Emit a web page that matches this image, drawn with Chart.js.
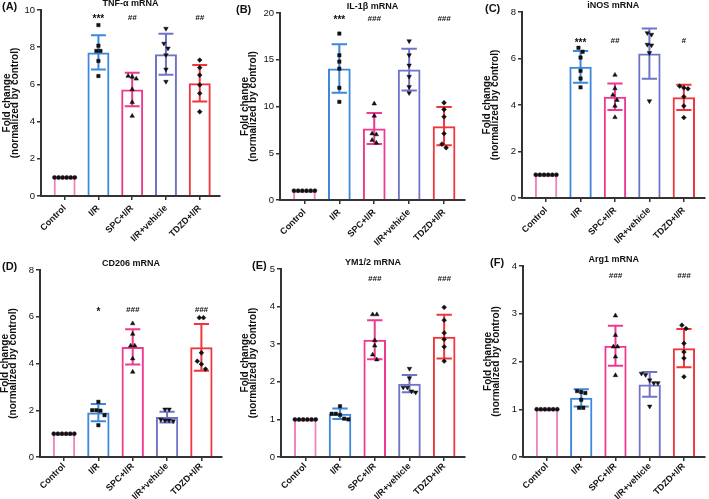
<!DOCTYPE html>
<html><head><meta charset="utf-8">
<script src="https://cdn.jsdelivr.net/npm/chart.js@4/dist/chart.umd.min.js"></script>
<style>
html,body{margin:0;padding:0;background:#fff;width:709px;height:499px;overflow:hidden;position:relative;}
canvas{position:absolute;}
</style></head><body>
<canvas id="cA" width="236" height="250" style="left:0;top:0"></canvas>
<canvas id="cB" width="236" height="250" style="left:236px;top:0"></canvas>
<canvas id="cC" width="237" height="250" style="left:472px;top:0"></canvas>
<canvas id="cD" width="236" height="249" style="left:0;top:250px"></canvas>
<canvas id="cE" width="236" height="249" style="left:236px;top:250px"></canvas>
<canvas id="cF" width="237" height="249" style="left:472px;top:250px"></canvas>
<script>
// ---------- DATA ----------
const categories = ['Control', 'I/R', 'SPC+I/R', 'I/R+vehicle', 'TDZD+I/R'];

const tnfTitle = 'TNF-α mRNA';
const tnfTicks = [0, 2, 4, 6, 8, 10];
const tnfMeans = [1, 7.72, 5.73, 7.62, 6.06];
const tnfSD = [0, 0.92, 0.90, 1.10, 0.98];
const tnfPoints = [
  [1, 1, 1, 1, 1, 1],
  [9.19, 8.08, 7.8, 7.8, 7.26, 6.45],
  [6.45, 6.4, 6.3, 5.73, 5.04, 4.30],
  [9.0, 8.2, 7.94, 7.58, 6.81, 6.15],
  [7.31, 6.9, 6.5, 5.97, 5.52, 4.53]
];
const tnfSig = ['', '***', '##', '', '##'];
const tnfSigLevel = 9.6;

const il1Title = 'IL-1β mRNA';
const il1Ticks = [0, 5, 10, 15, 20];
const il1Means = [1, 14.06, 7.65, 13.95, 7.9];
const il1SD = [0, 2.6, 1.65, 2.23, 2.05];
const il1Points = [
  [1, 1, 1, 1, 1, 1],
  [17.8, 15.48, 14.8, 14.05, 12.0, 10.5],
  [10.3, 9.0, 7.1, 7.0, 6.4, 6.1],
  [17.0, 15.5, 14.4, 13.2, 12.1, 11.45],
  [10.4, 9.68, 8.9, 7.1, 5.98, 5.59]
];
const il1Sig = ['', '***', '###', '', '###'];
const il1SigLevel = 19.4;

const inosTitle = 'iNOS mRNA';
const inosTicks = [0, 2, 4, 6, 8];
const inosMeans = [1, 5.64, 4.36, 6.21, 4.33];
const inosSD = [0, 0.68, 0.57, 1.08, 0.54];
const inosPoints = [
  [1, 1, 1, 1, 1, 1],
  [6.46, 6.29, 6.04, 5.47, 5.14, 4.76],
  [5.29, 4.71, 4.43, 4.21, 3.96, 3.47],
  [7.1, 7.03, 6.6, 6.57, 6.24, 4.17],
  [4.81, 4.74, 4.7, 4.36, 3.96, 3.46]
];
const inosSig = ['', '***', '##', '', '#'];
const inosSigLevel = 6.76;

const cd206Title = 'CD206 mRNA';
const cd206Ticks = [0, 2, 4, 6, 8];
const cd206Means = [1, 1.9, 4.71, 1.71, 4.69];
const cd206SD = [0, 0.37, 0.75, 0.23, 1.0];
const cd206Points = [
  [1, 1, 1, 1, 1, 1],
  [2.36, 2.0, 2.0, 1.98, 1.79, 1.36],
  [5.71, 5.26, 4.76, 4.76, 4.21, 3.64],
  [2.04, 2.04, 1.6, 1.57, 1.54, 1.57],
  [5.96, 5.96, 4.46, 4.1, 3.97, 3.76]
];
const cd206Sig = ['', '*', '###', '', '###'];
const cd206SigLevel = 6.29;

const ymTitle = 'YM1/2 mRNA';
const ymTicks = [0, 1, 2, 3, 4, 5];
const ymMeans = [1, 1.15, 3.12, 1.95, 3.2];
const ymSD = [0, 0.14, 0.52, 0.23, 0.58];
const ymPoints = [
  [1, 1, 1, 1, 1, 1],
  [1.35, 1.15, 1.15, 1.12, 1.02, 1.0],
  [3.79, 3.79, 3.1, 2.96, 2.72, 2.59],
  [2.35, 2.1, 1.85, 1.85, 1.75, 1.72],
  [3.98, 3.64, 3.3, 3.13, 2.93, 2.55]
];
const ymSig = ['', '', '###', '', '###'];
const ymSigLevel = 4.75;

const argTitle = 'Arg1 mRNA';
const argTicks = [0, 1, 2, 3, 4];
const argMeans = [1, 1.24, 2.33, 1.52, 2.28];
const argSD = [0, 0.18, 0.42, 0.26, 0.40];
const argPoints = [
  [1, 1, 1, 1, 1, 1],
  [1.38, 1.36, 1.34, 1.2, 1.03, 1.03],
  [2.96, 2.55, 2.31, 2.31, 2.1, 1.71],
  [1.75, 1.72, 1.61, 1.55, 1.55, 1.06],
  [2.76, 2.69, 2.38, 2.2, 2.07, 1.68]
];
const argSig = ['', '', '###', '', '###'];
const argSigLevel = 3.79;

// ---------- STYLE ----------
const FONT = "'Liberation Sans', Arial, Helvetica, sans-serif";
const barColors = ['#f084c2', '#3d88dc', '#ee3a8e', '#6f74c8', '#f0353c'];
const markerStyles = ['circle', 'rect', 'triangle', 'triangle', 'rectRot'];
const markerRot = [0, 0, 0, 180, 0];
const markerRadius = [2, 2.4, 2.6, 2.6, 2.4];

Chart.defaults.font.family = FONT;
Chart.defaults.color = '#111';

const panels = [
  {id: 'cA', tag: '(A)', title: tnfTitle, ticks: tnfTicks, means: tnfMeans, sd: tnfSD, points: tnfPoints, sig: tnfSig, sigLevel: tnfSigLevel,
   lay: {axisW: 41, padTop: 10, padRight: 16, xAxisH: 54, titlePad: 2.5, tagX: 2, xPad: 3}},
  {id: 'cB', tag: '(B)', title: il1Title, ticks: il1Ticks, means: il1Means, sd: il1SD, points: il1Points, sig: il1Sig, sigLevel: il1SigLevel,
   lay: {axisW: 44, padTop: 13, padRight: 7, xAxisH: 50, titlePad: 4.5, tagX: 0, xPad: 3}},
  {id: 'cC', tag: '(C)', title: inosTitle, ticks: inosTicks, means: inosMeans, sd: inosSD, points: inosPoints, sig: inosSig, sigLevel: inosSigLevel,
   lay: {axisW: 50, padTop: 12, padRight: 2, xAxisH: 52, titlePad: 10.5, tagX: 13, xPad: 3}},
  {id: 'cD', tag: '(D)', title: cd206Title, ticks: cd206Ticks, means: cd206Means, sd: cd206SD, points: cd206Points, sig: cd206Sig, sigLevel: cd206SigLevel,
   lay: {axisW: 40, padTop: 20, padRight: 14, xAxisH: 42, titlePad: 0.5, tagX: 2, xPad: 0}},
  {id: 'cE', tag: '(E)', title: ymTitle, ticks: ymTicks, means: ymMeans, sd: ymSD, points: ymPoints, sig: ymSig, sigLevel: ymSigLevel,
   lay: {axisW: 45, padTop: 19, padRight: 7, xAxisH: 42, titlePad: 4.5, tagX: 16, xPad: 0}},
  {id: 'cF', tag: '(F)', title: argTitle, ticks: argTicks, means: argMeans, sd: argSD, points: argPoints, sig: argSig, sigLevel: argSigLevel,
   lay: {axisW: 51, padTop: 16, padRight: 4, xAxisH: 42, titlePad: 11.5, tagX: 18, xPad: 0}}
];

// spread points with (nearly) equal values side by side
function jitter(vals, yMax) {
  const idx = vals.map((v, i) => i).sort((a, b) => vals[b] - vals[a]);
  const offs = new Array(vals.length).fill(0);
  const thr = 0.028 * yMax, step = 0.12;
  let cluster = [];
  const flush = () => {
    cluster.forEach((k, j) => { offs[k] = (j - (cluster.length - 1) / 2) * step; });
    cluster = [];
  };
  idx.forEach(k => {
    if (cluster.length && Math.abs(vals[cluster[cluster.length - 1]] - vals[k]) >= thr) flush();
    cluster.push(k);
  });
  flush();
  return offs;
}

function makeChart(p) {
  const yMax = p.ticks[p.ticks.length - 1];
  const datasets = [{
    type: 'bar',
    data: p.means.map((m, i) => ({x: i, y: m})),
    backgroundColor: 'rgba(255,255,255,0)',
    borderColor: barColors,
    borderWidth: 2,
    barPercentage: 0.65,
    categoryPercentage: 1,
    order: 2
  }];
  p.points.forEach((vals, g) => {
    const offs = jitter(vals, yMax);
    datasets.push({
      type: 'scatter',
      data: vals.map((v, k) => ({x: g + offs[k], y: v})),
      pointStyle: markerStyles[g],
      rotation: markerRot[g],
      pointRadius: markerRadius[g],
      backgroundColor: '#111',
      borderColor: '#111',
      borderWidth: 0.5,
      order: 1
    });
  });

  const errPlugin = {
    id: 'err',
    afterDatasetDraw(chart, args) {
      if (args.index !== 0) return;
      const ctx = chart.ctx, ys = chart.scales.y;
      ctx.save();
      args.meta.data.forEach((bar, i) => {
        const sd = p.sd[i];
        if (!sd) return;
        const x = bar.x, hw = bar.width * 0.34;
        const yT = ys.getPixelForValue(p.means[i] + sd);
        const yB = ys.getPixelForValue(p.means[i] - sd);
        ctx.strokeStyle = barColors[i];
        ctx.lineWidth = 2;
        ctx.beginPath();
        ctx.moveTo(x, yT); ctx.lineTo(x, yB);
        ctx.moveTo(x - hw, yT); ctx.lineTo(x + hw, yT);
        ctx.moveTo(x - hw, yB); ctx.lineTo(x + hw, yB);
        ctx.stroke();
      });
      ctx.restore();
    }
  };

  const textPlugin = {
    id: 'texts',
    afterDraw(chart) {
      const ctx = chart.ctx, ca = chart.chartArea, xs = chart.scales.x, ys = chart.scales.y;
      ctx.save();
      ctx.fillStyle = '#111';
      ctx.textBaseline = 'middle';
      ctx.textAlign = 'center';
      ctx.font = 'bold 9px ' + FONT;
      ctx.fillText(p.title, (ca.left + ca.right) / 2, ca.top - 6);
      ctx.textAlign = 'left';
      ctx.font = 'bold 11px ' + FONT;
      ctx.fillText(p.tag, p.lay.tagX, ca.top - 3);
      ctx.textAlign = 'center';
      p.sig.forEach((s, i) => {
        if (!s) return;
        const x = xs.getPixelForValue(i), y = ys.getPixelForValue(p.sigLevel);
        if (s[0] === '*') {
          ctx.font = 'bold 10px ' + FONT;
          ctx.fillText(s, x, y + 2);
        } else {
          ctx.font = 'italic bold 8px ' + FONT;
          ctx.fillText(s, x, y);
        }
      });
      ctx.restore();
    }
  };

  return new Chart(document.getElementById(p.id), {
    type: 'bar',
    data: {datasets},
    options: {
      responsive: false,
      animation: false,
      events: [],
      layout: {padding: {top: p.lay.padTop, right: p.lay.padRight, left: 0, bottom: 0}},
      plugins: {legend: {display: false}, tooltip: {enabled: false}, title: {display: false}},
      scales: {
        x: {
          type: 'linear',
          min: -0.7, max: 4.6,
          offset: false,
          afterBuildTicks: s => { s.ticks = categories.map((c, i) => ({value: i})); },
          afterFit: s => { s.height = p.lay.xAxisH; s.paddingLeft = 0; s.paddingRight = 0; },
          ticks: {
            autoSkip: false,
            minRotation: 45, maxRotation: 45,
            padding: p.lay.xPad,
            font: {size: 9, weight: 'bold'},
            color: '#111',
            callback: v => categories[Math.round(v)]
          },
          grid: {drawOnChartArea: false, drawTicks: true, tickLength: 4, color: '#333', lineWidth: 1.5, offset: false},
          border: {display: true, color: '#333', width: 2}
        },
        y: {
          type: 'linear',
          min: p.ticks[0], max: yMax,
          afterBuildTicks: s => { s.ticks = p.ticks.map(v => ({value: v})); },
          afterFit: s => { s.width = p.lay.axisW; s.paddingTop = 0; s.paddingBottom = 0; },
          ticks: {padding: 2, font: {size: 9.5}, color: '#111'},
          grid: {drawOnChartArea: false, drawTicks: true, tickLength: 4, color: '#333', lineWidth: 1.5},
          border: {display: true, color: '#333', width: 2},
          title: {
            display: true,
            text: ['Fold change', '(normalized by control)'],
            font: {size: 10, weight: 'bold', lineHeight: 0.85},
            color: '#111',
            padding: {top: p.lay.titlePad, bottom: 0}
          }
        }
      }
    },
    plugins: [errPlugin, textPlugin]
  });
}

panels.forEach(makeChart);
</script>
</body></html>
